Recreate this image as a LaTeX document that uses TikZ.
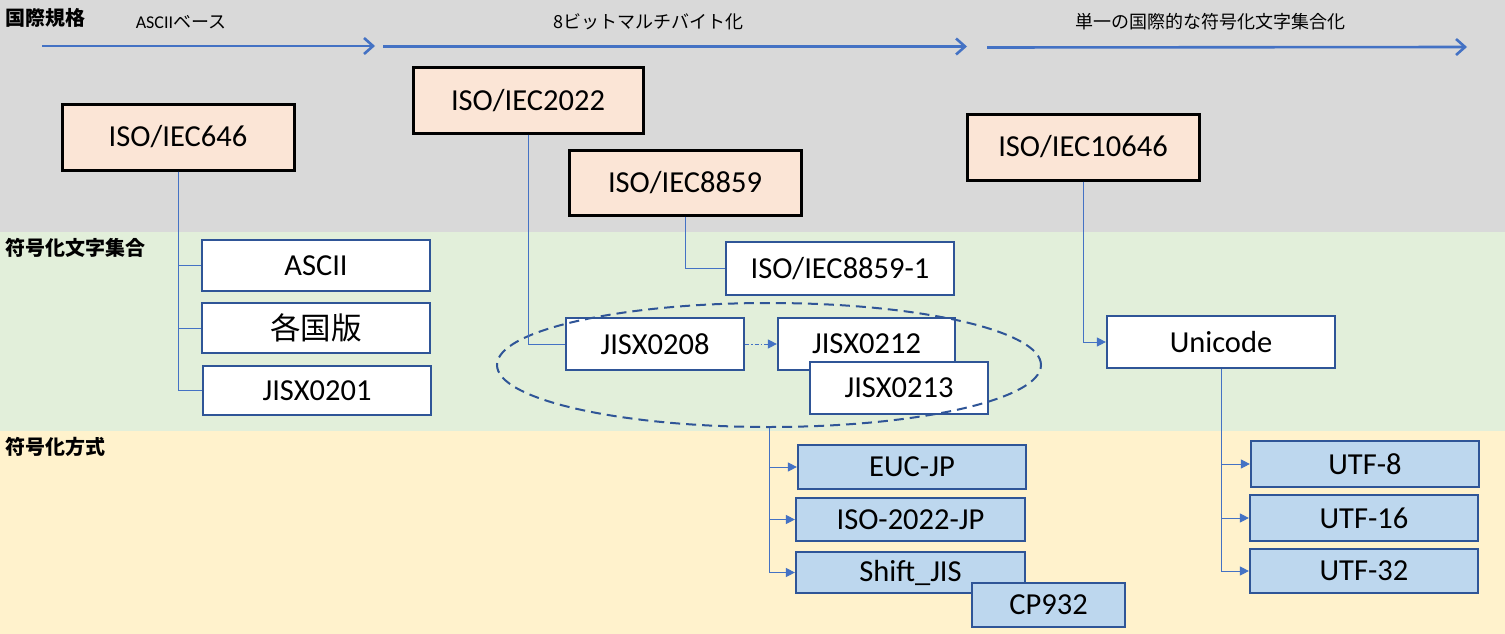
\documentclass[tikz,border=0pt]{standalone}
\usepackage{fontspec}
\setmainfont{Carlito}
\newfontfamily\cjk{Noto Sans CJK JP}
\usetikzlibrary{arrows.meta,shapes.geometric}
\definecolor{bandgray}{HTML}{D9D9D9}
\definecolor{bandgreen}{HTML}{E2EFDA}
\definecolor{bandyellow}{HTML}{FFF2CC}
\definecolor{isopink}{HTML}{FBE5D6}
\definecolor{enclblue}{HTML}{BDD7EE}
\definecolor{darkblue}{HTML}{2F5597}
\definecolor{accblue}{HTML}{4472C4}
\begin{document}
\begin{tikzpicture}[x=1pt,y=-1pt,
  isobox/.style={draw=black,line width=3pt,fill=isopink,inner sep=0pt,font=\fontsize{30.5}{36}\selectfont},
  setbox/.style={draw=darkblue,line width=2.2pt,fill=white,inner sep=0pt,font=\fontsize{30.5}{36}\selectfont},
  encbox/.style={setbox,fill=enclblue},
  bandlabel/.style={anchor=west,inner sep=0pt,font=\cjk\bfseries\fontsize{20}{24}\selectfont},
  phaselabel/.style={inner sep=0pt,font=\fontsize{18}{22}\selectfont},
  phasearrow/.style={draw=accblue,line width=2.6pt,-{Straight Barb[length=9pt,width=16pt]}},
  conn/.style={draw=accblue,line width=1pt},
  arr/.style={conn,-{Triangle[length=9pt,width=9pt]}},
  dasharr/.style={conn,dash pattern=on 4pt off 2pt on 1.5pt off 2pt,-{Triangle[length=9pt,width=9pt]}},
  groupell/.style={draw=darkblue,line width=2pt,dash pattern=on 10pt off 6pt,ellipse,inner sep=0pt}
]
\useasboundingbox (0,0) rectangle (1505,634);
% bands
\fill[bandgray] (0,0) rectangle (1505,232);
\fill[bandgreen] (0,232) rectangle (1505,431);
\fill[bandyellow] (0,431) rectangle (1505,634);
% band labels
\node[bandlabel] (lbl1) at (5,18) {国際規格};
\node[bandlabel] (lbl2) at (5,248) {符号化文字集合};
\node[bandlabel] (lbl3) at (5,447) {符号化方式};
% phase arrows
\coordinate (p1s) at (42,46);
\coordinate (p1e) at (375,46);
\coordinate (p2s) at (383,46.5);
\coordinate (p2e) at (967,46.5);
\coordinate (p3s) at (987,47.5);
\coordinate (p3e) at (1467,47);
\draw[phasearrow] (p1s) -- (p1e);
\draw[phasearrow] (p2s) -- (p2e);
\draw[phasearrow] (p3s) -- (p3e);
\node[phaselabel] (ph1) at (181,22) {ASCII{\cjk ベース}};
\node[phaselabel] (ph2) at (648,22) {{\cjk 8ビットマルチバイト化}};
\node[phaselabel] (ph3) at (1210,22) {{\cjk 単一の国際的な符号化文字集合化}};
% international standards
\node[isobox,minimum width=232pt,minimum height=66pt] (iso646) at (178,137) {ISO/IEC646};
\node[isobox,minimum width=230pt,minimum height=65pt] (iso2022) at (528,100.5) {ISO/IEC2022};
\node[isobox,minimum width=232pt,minimum height=65pt] (iso8859) at (685,182.5) {ISO/IEC8859};
\node[isobox,minimum width=232pt,minimum height=66pt] (iso10646) at (1083,147) {ISO/IEC10646};
% coded character sets
\node[setbox,minimum width=228pt,minimum height=51pt] (ascii) at (316,265.5) {ASCII};
\node[setbox,minimum width=228pt,minimum height=50pt] (kokubetsu) at (316,328) {\cjk 各国版};
\node[setbox,minimum width=228pt,minimum height=49pt] (jisx0201) at (317,390.5) {JISX0201};
\node[setbox,minimum width=228pt,minimum height=53pt] (iso88591) at (840,268.5) {ISO/IEC8859-1};
\node[setbox,minimum width=178pt,minimum height=52pt] (jisx0208) at (655,344) {JISX0208};
\node[setbox,minimum width=177pt,minimum height=52pt] (jisx0212) at (866.5,344) {JISX0212};
\node[setbox,minimum width=178pt,minimum height=52pt] (jisx0213) at (899,388) {JISX0213};
\node[setbox,minimum width=228pt,minimum height=52pt] (unicode) at (1221,342) {Unicode};
% encodings
\node[encbox,minimum width=228pt,minimum height=44pt] (eucjp) at (912,467) {EUC-JP};
\node[encbox,minimum width=229pt,minimum height=43pt] (iso2022jp) at (910.5,519.5) {ISO-2022-JP};
\node[encbox,minimum width=229pt,minimum height=41pt] (sjis) at (910.5,572.5) {Shift\_JIS};
\node[encbox,minimum width=153pt,minimum height=44pt] (cp932) at (1048.5,605) {CP932};
\node[encbox,minimum width=228pt,minimum height=46pt] (utf8) at (1365,464) {UTF-8};
\node[encbox,minimum width=228pt,minimum height=46pt] (utf16) at (1364,518) {UTF-16};
\node[encbox,minimum width=228pt,minimum height=44pt] (utf32) at (1364,571) {UTF-32};
% group ellipse
\node[groupell,minimum width=544pt,minimum height=124pt] (jisgroup) at (769,365) {};
% connectors
\draw[conn] (iso646.south) |- (ascii.west);
\draw[conn] (iso646.south) |- (kokubetsu.west);
\draw[conn] (iso646.south) |- (jisx0201.west);
\draw[conn] (iso2022.south) |- (jisx0208.west);
\draw[conn] (iso8859.south) |- (iso88591.west);
\draw[arr] (iso10646.south) |- (unicode.west);
\draw[dasharr] (jisx0208.east) -- (jisx0212.west);
\draw[arr] (jisgroup.south) |- (eucjp.west);
\draw[arr] (jisgroup.south) |- (iso2022jp.west);
\draw[arr] (jisgroup.south) |- (sjis.west);
\draw[arr] (unicode.south) |- (utf8.west);
\draw[arr] (unicode.south) |- (utf16.west);
\draw[arr] (unicode.south) |- (utf32.west);
\end{tikzpicture}
\end{document}
